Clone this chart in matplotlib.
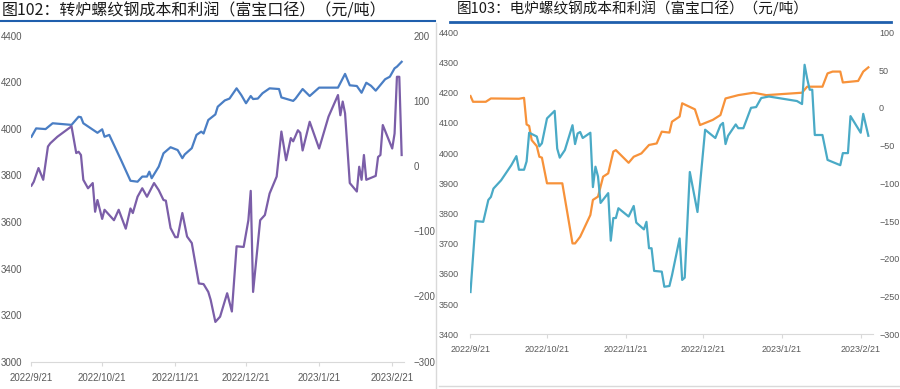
import pandas as pd
import matplotlib.pyplot as plt
from matplotlib.lines import Line2D

plt.rcParams['font.family'] = ['Noto Sans CJK SC', 'DejaVu Sans']

start = pd.Timestamp('2022-09-21')

# 图102 转炉：成本（左轴）
bof_cost_days = [0, 2, 6, 9, 17, 20, 21, 22, 28, 30, 31, 33, 35, 38, 42, 45, 47, 49, 50, 51,
                 54, 56, 59, 62, 64, 65, 68, 70, 72, 73, 75, 78, 79, 82, 84, 87, 89, 91, 93, 94,
                 96, 98, 101, 105, 106, 111, 112, 115, 118, 122, 130, 133, 135, 138, 140, 142,
                 144, 146, 150, 152, 154, 155, 157]
bof_cost = [3966, 4002, 3999, 4024, 4017, 4052, 4050, 4024, 3983, 3998, 3966, 3974, 3931, 3866,
            3777, 3773, 3795, 3795, 3816, 3788, 3838, 3895, 3921, 3909, 3874, 3890, 3917, 3974,
            3988, 3980, 4038, 4062, 4095, 4122, 4130, 4174, 4145, 4110, 4141, 4128, 4130, 4153,
            4174, 4171, 4135, 4120, 4130, 4171, 4141, 4177, 4177, 4236, 4187, 4184, 4155, 4198,
            4185, 4164, 4213, 4224, 4260, 4267, 4288]

# 图102 转炉：利润（右轴）
bof_profit_days = [0, 1, 3, 5, 7, 8, 11, 17, 19, 20, 21, 22, 24, 26, 27, 28, 30, 31, 35, 37,
                   40, 42, 43, 45, 47, 49, 52, 54, 56, 57, 59, 61, 62, 64, 66, 68, 71, 73, 75,
                   76, 78, 80, 83, 85, 87, 90, 92, 93, 94, 97, 99, 101, 104, 106, 108, 110, 111,
                   113, 114, 115, 118, 122, 126, 130, 131, 132, 133, 135, 138, 139, 140, 141,
                   142, 146, 147, 148, 149, 153, 154, 155, 156, 157]
bof_profit = [-30, -24, -3, -21, 30, 35, 45, 61, 20, 22, 17, -21, -34, -26, -70, -52, -81, -67,
              -83, -67, -96, -65, -72, -47, -34, -47, -26, -37, -52, -53, -95, -109, -109, -72,
              -108, -118, -180, -181, -193, -205, -239, -231, -195, -223, -123, -124, -83, -38,
              -193, -83, -75, -42, -16, 53, 9, 43, 38, 55, 51, 24, 68, 27, 76, 109, 78, 99, 81,
              -26, -39, -1, -21, 17, -21, -15, 14, 17, 63, 27, 50, 137, 137, 17]

# 图103 电炉：成本（左轴）
eaf_cost_days = [0, 1, 6, 8, 19, 21, 22, 23, 24, 26, 27, 28, 30, 36, 38, 40, 41, 43, 47, 48,
                 50, 52, 54, 56, 57, 62, 64, 67, 70, 73, 75, 78, 79, 82, 83, 88, 90, 95, 98,
                 100, 105, 111, 116, 130, 132, 138, 140, 142, 145, 146, 152, 154, 156]
eaf_cost = [4189, 4170, 4170, 4181, 4180, 4183, 4095, 4090, 4043, 4023, 3988, 3985, 3900, 3900,
            3801, 3701, 3701, 3723, 3795, 3845, 3856, 3922, 3933, 4005, 4010, 3968, 3988, 3999,
            4027, 4032, 4071, 4068, 4104, 4121, 4165, 4145, 4093, 4110, 4126, 4181, 4192, 4200,
            4192, 4200, 4220, 4220, 4264, 4270, 4270, 4234, 4239, 4270, 4284]

# 图103 电炉：利润（右轴）
eaf_profit_days = [0, 2, 5, 7, 8, 9, 12, 16, 18, 19, 21, 22, 23, 26, 27, 28, 30, 33, 34, 35,
                   37, 40, 41, 42, 43, 44, 47, 48, 49, 50, 51, 54, 55, 56, 57, 58, 62, 64, 65,
                   68, 69, 70, 71, 72, 75, 76, 78, 79, 82, 83, 84, 86, 89, 92, 96, 98, 99, 100,
                   101, 104, 105, 107, 110, 112, 114, 117, 128, 130, 131, 132, 133, 134, 135,
                   138, 140, 145, 146, 148, 149, 153, 154, 156]
eaf_profit = [-244, -150, -151, -122, -118, -107, -96, -76, -64, -82, -82, -71, -33, -38, -51,
              -47, -14, -4, -54, -66, -56, -23, -48, -34, -32, -40, -33, -105, -78, -91, -126,
              -113, -176, -146, -146, -133, -144, -130, -152, -161, -151, -186, -186, -216, -217,
              -237, -236, -222, -173, -228, -225, -85, -138, -29, -40, -23, -20, -48, -37, -22,
              -27, -27, 0, 1, 13, 15, 9, 5, 57, 39, 24, 24, -36, -36, -69, -76, -60, -60, -11,
              -33, -8, -37]

tick_dates = ['2022-09-21', '2022-10-21', '2022-11-21', '2022-12-21', '2023-01-21', '2023-02-21']
tick_labels = ['2022/9/21', '2022/10/21', '2022/11/21', '2022/12/21', '2023/1/21', '2023/2/21']

TICK_FONT = 'Liberation Sans'


def to_dates(days):
    return start + pd.to_timedelta(days, unit='D')


def style_axes(ax, ax2, fs):
    for a in (ax, ax2):
        for s in ['top', 'left', 'right']:
            a.spines[s].set_visible(False)
        a.spines['bottom'].set_color('#d9d9d9')
        a.tick_params(axis='y', length=0, labelsize=fs, labelcolor='#595959',
                      labelfontfamily=TICK_FONT)
    ax2.spines['bottom'].set_visible(False)
    ax.tick_params(axis='x', length=3, color='#d9d9d9', labelsize=fs, labelcolor='#595959',
                   pad=5, labelfontfamily=TICK_FONT)
    ax.set_xticks(pd.to_datetime(tick_dates))
    ax.set_xticklabels(tick_labels)
    ax.set_xlim(start - pd.Timedelta(days=0.2), start + pd.Timedelta(days=158))


fig = plt.figure(figsize=(9, 3.89), dpi=100)

# 左图
ax1 = fig.add_axes([0.0344, 0.0702, 0.4145, 0.838])
ax1b = ax1.twinx()
ax1.plot(to_dates(bof_cost_days), bof_cost, color='#4a7ec4', lw=1.6)
ax1b.plot(to_dates(bof_profit_days), bof_profit, color='#7b5ea8', lw=1.6)
ax1.set_ylim(3000, 4400)
ax1.set_yticks(range(3000, 4401, 200))
ax1b.set_ylim(-300, 200)
ax1b.set_yticks(range(-300, 201, 100))
style_axes(ax1, ax1b, 7)
ax1.tick_params(axis='y', pad=6)
ax1b.tick_params(axis='y', pad=7)

# 右图
ax2 = fig.add_axes([0.5222, 0.1406, 0.4483, 0.7763])
ax2b = ax2.twinx()
ax2.plot(to_dates(eaf_cost_days), eaf_cost, color='#f7923a', lw=1.6)
ax2b.plot(to_dates(eaf_profit_days), eaf_profit, color='#4aaac6', lw=1.6)
ax2.set_ylim(3400, 4400)
ax2.set_yticks(range(3400, 4401, 100))
ax2b.set_ylim(-300, 100)
ax2b.set_yticks(range(-300, 101, 50))
style_axes(ax2, ax2b, 6.5)
ax2.tick_params(axis='y', pad=8)
ax2b.tick_params(axis='y', pad=4)

# 标题与装饰线
fig.text(0.002, 0.972, '图102：转炉螺纹钢成本和利润（富宝口径）（元/吨）', fontsize=11.5,
         color='#1a1a1a', va='center', ha='left')
fig.text(0.508, 0.978, '图103：电炉螺纹钢成本和利润（富宝口径）（元/吨）', fontsize=10.5,
         color='#1a1a1a', va='center', ha='left')
fig.add_artist(Line2D([0, 0.483], [0.945, 0.945], color='#1f5fad', lw=1.5))
fig.add_artist(Line2D([0.5, 0.99], [0.943, 0.943], color='#1f5fad', lw=2))
fig.add_artist(Line2D([0.484, 0.484], [0.0, 0.94], color='#d9d9d9', lw=1))
fig.add_artist(Line2D([0.488, 1.0], [0.008, 0.008], color='#d9d9d9', lw=1))

fig.savefig('out.png', dpi=100)
